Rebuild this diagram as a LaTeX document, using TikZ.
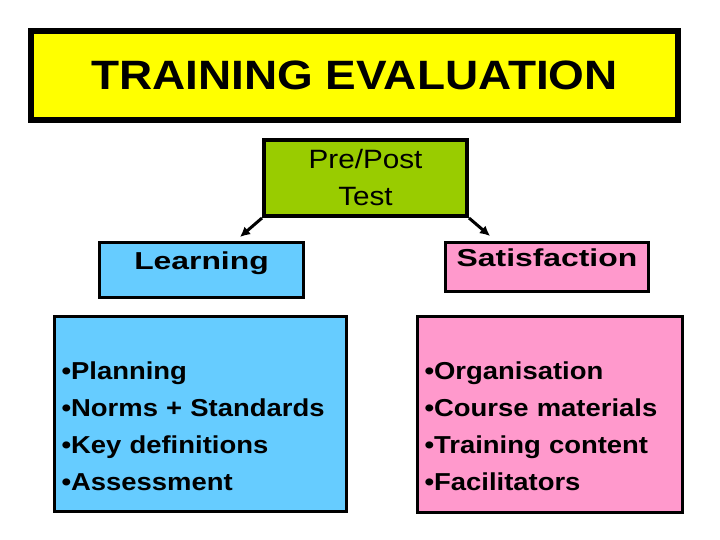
\documentclass[tikz,border=0pt]{standalone}
\usepackage{fontspec}
\setmainfont{Liberation Sans}[FakeStretch=1.12]
\newfontfamily\widefont{Liberation Sans}[FakeStretch=1.3]
\usepackage{xcolor}
\usetikzlibrary{arrows.meta}
\definecolor{titleyellow}{HTML}{FFFF00}
\definecolor{testgreen}{HTML}{99CC00}
\definecolor{learnblue}{HTML}{66CCFF}
\definecolor{satispink}{HTML}{FF99CC}
\tikzset{
    % plain framed box, sizes given per node
    framebox/.style={draw=black, line width=3pt, inner sep=0pt},
    % heading sitting near the top of its box
    headbox/.style={framebox, text height=18pt, text depth=20pt,
        font=\widefont\bfseries\fontsize{24.5}{30}\selectfont},
    % bullet lists
    listbox/.style={framebox, align=left, inner xsep=7pt, text height=18pt,
        font=\bfseries\fontsize{24.5}{37}\selectfont},
    conn/.style={line width=3pt, -{Latex[length=10pt, width=10pt]}}
}

\begin{document}
\begin{tikzpicture}[x=1pt, y=-1pt]
    \useasboundingbox (0,0) rectangle (720,540);
    \node at (354.5,75.5)[framebox, fill=titleyellow, line width=6pt,
        minimum width=647pt, minimum height=89pt,
        font=\bfseries\fontsize{41}{41}\selectfont] (title) {TRAINING EVALUATION};
    \node at (365.5,178)[framebox, fill=testgreen, line width=4pt,
        minimum width=203pt, minimum height=76pt, align=center,
        font=\fontsize{26.5}{37}\selectfont] (pre) {Pre/Post\\Test};
    \node at (201.5,270)[headbox, fill=learnblue,
        minimum width=204pt, minimum height=55pt] (learn) {Learning};
    \node at (547,267)[headbox, fill=satispink,
        minimum width=203pt, minimum height=49pt] (satis) {Satisfaction};
    \node at (200.5,414)[listbox, fill=learnblue, text width=278pt, text depth=88pt,
        minimum width=292pt, minimum height=195pt] (learnlist)
        {•Planning\\•Norms + Standards\\•Key definitions\\•Assessment};
    \node at (550,414.5)[listbox, fill=satispink, text width=251pt, text depth=89pt,
        minimum width=265pt, minimum height=196pt] (satislist)
        {•Organisation\\•Course materials\\•Training content\\•Facilitators};
    \coordinate (lt) at (240,237);
    \coordinate (st) at (490,236);
    \foreach \a/\b in {south west/lt, south east/st} {
        \draw[conn] (pre.\a) -- (\b);
    }
\end{tikzpicture}
\end{document}
